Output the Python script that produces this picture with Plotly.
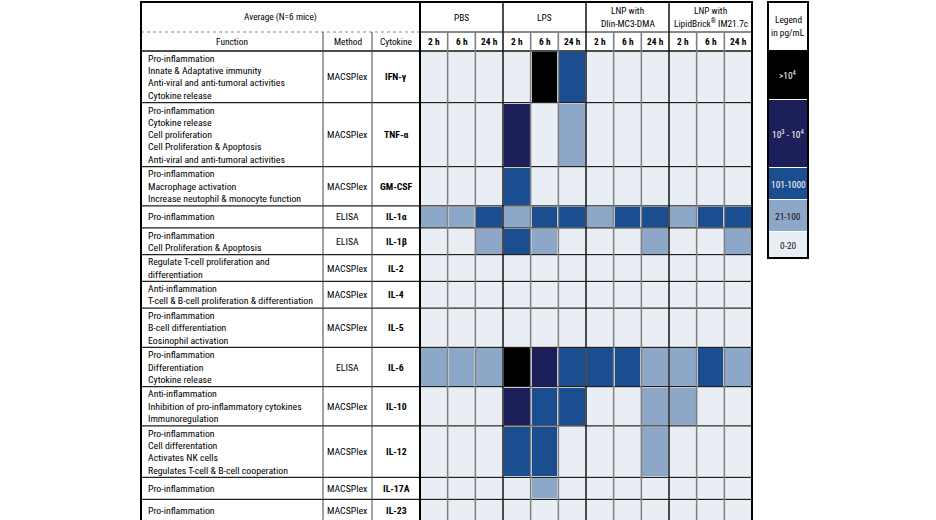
import plotly.graph_objects as go

# ---------------- data ----------------
groups = ["PBS", "LPS", "LNP with<br>Dlin-MC3-DMA", "LNP with<br>LipidBrick<sup>®</sup> IM21.7c"]
times = ["2 h", "6 h", "24 h"]
cytokines = ["IFN-γ", "TNF-α", "GM-CSF", "IL-1α", "IL-1β", "IL-2", "IL-4",
             "IL-5", "IL-6", "IL-10", "IL-12", "IL-17A", "IL-23"]
methods = ["MACSPlex", "MACSPlex", "MACSPlex", "ELISA", "ELISA", "MACSPlex", "MACSPlex",
           "MACSPlex", "ELISA", "MACSPlex", "MACSPlex", "MACSPlex", "MACSPlex"]
functions = [
    ["Pro-inflammation", "Innate & Adaptative immunity", "Anti-viral and anti-tumoral activities", "Cytokine release"],
    ["Pro-inflammation", "Cytokine release", "Cell proliferation", "Cell Proliferation & Apoptosis",
     "Anti-viral and anti-tumoral activities"],
    ["Pro-inflammation", "Macrophage activation", "Increase neutophil & monocyte function"],
    ["Pro-inflammation"],
    ["Pro-inflammation", "Cell Proliferation & Apoptosis"],
    ["Regulate T-cell proliferation and", "differentiation"],
    ["Anti-inflammation", "T-cell & B-cell proliferation & differentiation"],
    ["Pro-inflammation", "B-cell differentiation", "Eosinophil activation"],
    ["Pro-inflammation", "Differentiation", "Cytokine release"],
    ["Anti-inflammation", "Inhibition of pro-inflammatory cytokines", "Immunoregulation"],
    ["Pro-inflammation", "Cell differentation", "Activates NK cells", "Regulates T-cell & B-cell cooperation"],
    ["Pro-inflammation"],
    ["Pro-inflammation"],
]
# level index: 0 = 0-20, 1 = 21-100, 2 = 101-1000, 3 = 10^3-10^4, 4 = >10^4 (pg/mL)
# columns: PBS 2/6/24 h, LPS 2/6/24 h, MC3 2/6/24 h, LipidBrick 2/6/24 h
levels = [
    [0, 0, 0, 0, 4, 2, 0, 0, 0, 0, 0, 0],  # IFN-γ
    [0, 0, 0, 3, 0, 1, 0, 0, 0, 0, 0, 0],  # TNF-α
    [0, 0, 0, 2, 0, 0, 0, 0, 0, 0, 0, 0],  # GM-CSF
    [1, 1, 2, 1, 2, 2, 1, 2, 2, 1, 2, 2],  # IL-1α
    [0, 0, 1, 2, 1, 0, 0, 0, 1, 0, 0, 1],  # IL-1β
    [0, 0, 0, 0, 0, 0, 0, 0, 0, 0, 0, 0],  # IL-2
    [0, 0, 0, 0, 0, 0, 0, 0, 0, 0, 0, 0],  # IL-4
    [0, 0, 0, 0, 0, 0, 0, 0, 0, 0, 0, 0],  # IL-5
    [1, 1, 1, 4, 3, 2, 2, 2, 1, 1, 2, 1],  # IL-6
    [0, 0, 0, 3, 2, 2, 0, 0, 1, 1, 0, 0],  # IL-10
    [0, 0, 0, 2, 2, 0, 0, 0, 1, 0, 0, 0],  # IL-12
    [0, 0, 0, 0, 1, 0, 0, 0, 0, 0, 0, 0],  # IL-17A
    [0, 0, 0, 0, 0, 0, 0, 0, 0, 0, 0, 0],  # IL-23
]
legend_labels = ["0-20", "21-100", "101-1000", "10<sup>3</sup> - 10<sup>4</sup>", ">10<sup>4</sup>"]
header_title = "Average (N=6 mice)"
col_titles = ["Function", "Method", "Cytokine"]
legend_title = ["Legend", "in pg/mL"]

# ---------------- style / layout ----------------
W, H = 936, 520
level_colors = ["#E9EEF5", "#8CA7C8", "#1B4E90", "#1D1F5B", "#000000"]
text_colors = ["#111111", "#111111", "#FFFFFF", "#FFFFFF", "#FFFFFF"]
FONT = "Liberation Sans Narrow, Arial Narrow, Roboto Condensed, sans-serif"
FS = 9.8
FS_HEAD = 9.4
X_FUNC, X_METH, X_CYTO, X_DATA, X_END = 141, 323, 372, 420, 752
Y_TOP, Y_SUB, Y_BODY = 2, 32, 51
LINE_H = 12.3
LEG_X0, LEG_X1 = 768, 808
LEG_Y = [2, 50, 100, 168, 200, 232, 258]   # header, >1e4, 1e3-1e4, 101-1000, 21-100, 0-20

ncol = len(groups) * len(times)
cw = (X_END - X_DATA) / ncol
x_edges = [X_DATA + i * cw for i in range(ncol + 1)]
row_h = [max(22.0, 12.4 * len(f) + 2) for f in functions]
y_edges = [Y_BODY]
for h in row_h:
    y_edges.append(y_edges[-1] + h)
Y_BOT = y_edges[-1] + 6

nlev = len(level_colors)
cs = []
for i, c in enumerate(level_colors):
    cs.append([i / nlev, c])
    cs.append([(i + 1) / nlev, c])

fig = go.Figure()
fig.add_trace(go.Heatmap(
    x=x_edges, y=y_edges, z=levels, zmin=-0.5, zmax=nlev - 0.5,
    colorscale=cs, showscale=False, xgap=2, ygap=2, hoverinfo="skip"))

# legend key as a heatmap column
leg_z = [[lv] for lv in range(nlev - 1, -1, -1)]
fig.add_trace(go.Heatmap(
    x=[LEG_X0, LEG_X1], y=LEG_Y[1:], z=leg_z, zmin=-0.5, zmax=nlev - 0.5,
    colorscale=cs, showscale=False, ygap=1, hoverinfo="skip"))

ann = []
def txt(x, y, s, xa="center", color="#000000", bold=False, size=FS):
    ann.append(dict(x=x, y=y, xref="x", yref="y", text=s, showarrow=False,
                    xanchor=xa, yanchor="middle",
                    font=dict(family=FONT, size=size, color=color,
                              weight="bold" if bold else "normal")))

# header row 1
txt((X_FUNC + X_DATA) / 2, (Y_TOP + Y_SUB) / 2, header_title, size=FS_HEAD)
gw = cw * len(times)
for gi, g in enumerate(groups):
    parts = g.split("<br>")
    cx = X_DATA + gw * (gi + 0.5)
    cy = (Y_TOP + Y_SUB) / 2
    for li, p in enumerate(parts):
        txt(cx, cy + (li - (len(parts) - 1) / 2) * LINE_H, p, size=FS_HEAD)
# header row 2
ysub = (Y_SUB + Y_BODY) / 2
for (a, b), t in zip([(X_FUNC, X_METH), (X_METH, X_CYTO), (X_CYTO, X_DATA)], col_titles):
    txt((a + b) / 2, ysub, t, size=FS_HEAD)
for ci in range(ncol):
    txt((x_edges[ci] + x_edges[ci + 1]) / 2, ysub, times[ci % len(times)], bold=True, size=FS_HEAD)
# body text
for ri in range(len(cytokines)):
    cy = (y_edges[ri] + y_edges[ri + 1]) / 2
    lines = functions[ri]
    for li, s in enumerate(lines):
        txt(X_FUNC + 5, cy + (li - (len(lines) - 1) / 2) * LINE_H, s, xa="left")
    txt((X_METH + X_CYTO) / 2, cy, methods[ri])
    txt((X_CYTO + X_DATA) / 2, cy, cytokines[ri], bold=True)
# legend text
for li, s in enumerate(legend_title):
    txt((LEG_X0 + LEG_X1) / 2, (LEG_Y[0] + LEG_Y[1]) / 2 + (li - 0.5) * LINE_H, s, size=FS_HEAD)
for bi in range(nlev):
    lv = nlev - 1 - bi
    txt((LEG_X0 + LEG_X1) / 2, (LEG_Y[bi + 1] + LEG_Y[bi + 2]) / 2, legend_labels[lv],
        color=text_colors[lv], size=FS_HEAD)

shapes = []
def line(x0, y0, x1, y1, color="#111111", width=1, dash="solid"):
    shapes.append(dict(type="line", xref="x", yref="y", x0=x0, y0=y0, x1=x1, y1=y1,
                       line=dict(color=color, width=width, dash=dash)))

# horizontal lines
line(X_FUNC, Y_SUB, X_DATA, Y_SUB, color="#888888", width=1.2, dash="dot")
line(X_DATA, Y_SUB, X_END, Y_SUB, color="#111111", width=1.2)
line(X_FUNC, Y_BODY, X_END, Y_BODY, color="#111111", width=1.4)
for y in y_edges[1:-1]:
    line(X_FUNC, y, X_END, y, color="#222222", width=1.2)
# vertical lines
line(X_METH, Y_SUB, X_METH, Y_BOT, color="#444444", width=1)
line(X_CYTO, Y_SUB, X_CYTO, Y_BOT, color="#444444", width=1)
for ci in range(1, ncol):
    if ci % len(times) == 0:
        line(x_edges[ci], Y_TOP, x_edges[ci], Y_BOT, color="#111111", width=1.5)
    else:
        line(x_edges[ci], Y_SUB, x_edges[ci], Y_BOT, color="#808080", width=1.6)
line(X_DATA, Y_TOP, X_DATA, Y_BOT, color="#000000", width=2)
# outer borders
shapes.append(dict(type="rect", xref="x", yref="y", x0=X_FUNC, y0=Y_TOP, x1=X_END, y1=Y_BOT,
                   line=dict(color="#000000", width=2)))
shapes.append(dict(type="rect", xref="x", yref="y", x0=LEG_X0, y0=LEG_Y[0], x1=LEG_X1, y1=LEG_Y[-1],
                   line=dict(color="#000000", width=2)))

fig.update_layout(
    width=W, height=H, margin=dict(l=0, r=0, t=0, b=0),
    paper_bgcolor="white", plot_bgcolor="white",
    xaxis=dict(range=[0, W], visible=False, fixedrange=True),
    yaxis=dict(range=[H, 0], visible=False, fixedrange=True),
    annotations=ann, shapes=shapes, showlegend=False,
)
fig.write_html("out.html", config={"displayModeBar": False},
               post_script="document.body.style.margin='0px';document.body.style.overflow='hidden';")
